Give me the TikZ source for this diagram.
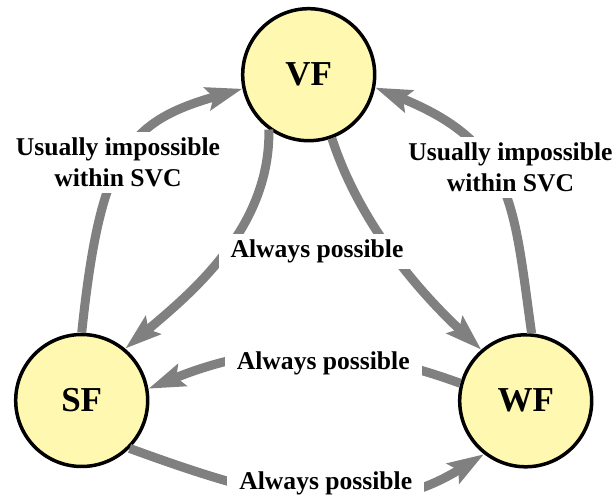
\documentclass[tikz,border=0pt]{standalone}
\usepackage{fontspec}
\setmainfont{Liberation Serif}
\usetikzlibrary{arrows.meta}
\definecolor{statoyellow}{RGB}{255,248,176}
\definecolor{frecciagray}{RGB}{128,128,128}

\begin{document}
\begin{tikzpicture}[x=1pt,y=1pt,
	stato/.style={circle, draw=black, line width=3.5pt, fill=statoyellow, minimum size=132pt, inner sep=0pt, font=\fontsize{35}{35}\selectfont\bfseries},
	freccia/.style={draw=frecciagray, line width=9pt, -{Stealth[length=36pt,width=23pt,inset=6pt]}},
	etichetta/.style={fill=white, inner xsep=12pt, inner ysep=6pt, align=center, font=\fontsize{25.6}{31}\selectfont\bfseries}]
	\useasboundingbox (0,0) rectangle (616,498);
	
	% Stati
	\node[stato] (VF) at (308.7,423.3) {VF};
	\node[stato] (SF) at (81.7,97.5) {SF};
	\node[stato] (WF) at (525.7,97.2) {WF};
	
	% Transizioni
	\draw[freccia] (SF.north) to[out=84,in=196,out distance=179pt,in distance=120pt] (VF.192);
	\draw[freccia] (WF.85) to[out=98,in=338,out distance=130pt,in distance=150pt] (VF.349);
	\draw[freccia] (VF.234) to[out=271,in=40,out distance=97pt,in distance=90pt] (SF.50);
	\draw[freccia] (VF.290) to[out=288,in=137,out distance=87pt,in distance=89pt] (WF.131);
	\draw[freccia] (WF.165) to[out=160,in=22] (SF.10);
	\draw[freccia] (SF.315) to[out=340,in=212] (WF.232);
	
	% Etichette
	\node[etichetta] (impSV) at (118,335.5) {Usually impossible\\within SVC};
	\node[etichetta] (impWV) at (510.5,330.5) {Usually impossible\\within SVC};
	\node[etichetta] (possV) at (317,246.5) {Always possible};
	\node[etichetta] (possWS) at (323.3,135) {Always possible};
	\node[etichetta] (possSW) at (325.8,15) {Always possible};
\end{tikzpicture}
\end{document}
